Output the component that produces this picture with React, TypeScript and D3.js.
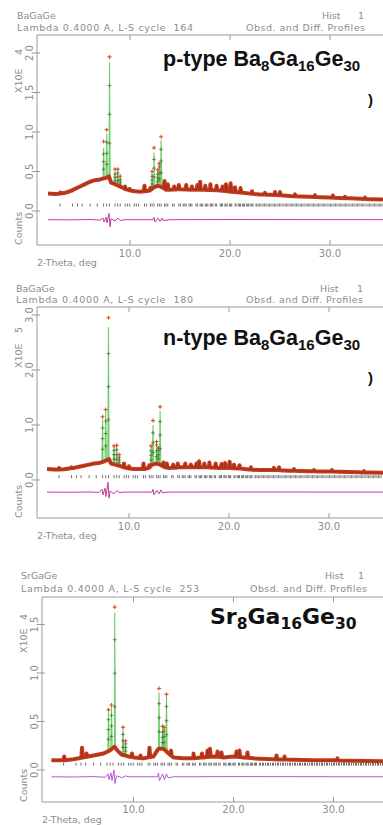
import React from 'react';
import * as d3 from 'd3';

// reflection marker positions, 2-theta (deg)
const reflections = [
  3.01, 4.25, 4.75, 5.21, 6.01, 6.72, 7.36, 7.67, 7.95, 8.5, 8.77, 9.02, 9.51, 9.74, 9.97,
  10.42, 10.63, 10.84, 11.45, 11.64, 12.03, 12.21, 12.4, 12.76, 12.93, 13.11, 13.45, 13.61,
  13.78, 14.26, 14.42, 14.88, 15.03, 15.33, 15.48, 15.62, 15.91, 16.05, 16.19, 16.6, 16.74,
  17.01, 17.14, 17.27, 17.53, 17.66, 17.79, 18.04, 18.16, 18.29, 18.53, 18.66, 19.02, 19.14,
  19.25, 19.49, 19.6, 19.72, 19.94, 20.06, 20.17, 20.5, 20.61, 20.83, 20.94, 21.05, 21.26,
  21.37, 21.47, 21.68, 21.79, 21.89, 22.09, 22.2, 22.3, 22.6, 22.7, 22.9, 23.0, 23.2, 23.4,
  23.5, 23.7, 23.9, 24.0, 24.2, 24.4, 24.5, 24.7, 24.9, 25.0, 25.2, 25.4, 25.6, 25.7, 25.9,
  26.1, 26.2, 26.4, 26.6, 26.7, 26.9, 27.1, 27.2, 27.4, 27.6, 27.8, 27.9, 28.1, 28.3, 28.4,
  28.6, 28.8, 28.9, 29.1, 29.3, 29.4, 29.6, 29.8, 30.0, 30.1, 30.3, 30.5, 30.6, 30.8, 31.0,
  31.1, 31.3, 31.5, 31.6, 31.8, 32.0, 32.2, 32.3, 32.5, 32.7, 32.8, 33.0, 33.2, 33.3, 33.5,
  33.7, 33.9, 34.0, 34.2, 34.4, 34.5, 34.7, 34.9, 35.0, 35.2
];

// p-type Ba8Ga16Ge30 (x10^4 counts)
const pBackground: [number, number][] = [
  [1.8, 0.22], [2.5, 0.215], [3, 0.22], [3.5, 0.23], [4, 0.25], [4.5, 0.28], [5, 0.31],
  [5.5, 0.34], [6, 0.37], [6.5, 0.39], [7, 0.4], [7.3, 0.41], [7.6, 0.42], [7.9, 0.44],
  [8.1, 0.36], [8.5, 0.34], [9, 0.31], [9.5, 0.28], [10, 0.26], [10.5, 0.25], [11, 0.245],
  [11.5, 0.25], [12, 0.26], [12.4, 0.3], [12.8, 0.32], [13.2, 0.3], [13.6, 0.27], [14, 0.27],
  [15, 0.275], [16, 0.27], [17, 0.27], [18, 0.265], [19, 0.26], [20, 0.245], [21, 0.235],
  [22, 0.22], [23, 0.21], [24, 0.205], [25, 0.2], [26, 0.19], [27, 0.185], [28, 0.18],
  [29, 0.175], [30, 0.17], [31, 0.165], [32, 0.16], [33, 0.155], [34, 0.15], [35.5, 0.145]
];
const pMajor: [number, number, number][] = [
  [7.36, 0.8, 0.88], [7.67, 0.98, 1.03], [7.95, 1.88, 1.95], [8.5, 0.5, 0.53], [8.77, 0.52, 0.53],
  [9.02, 0.42, 0.44], [12.21, 0.48, 0.5], [12.4, 0.74, 0.8], [12.76, 0.5, 0.52], [12.93, 0.62, 0.6],
  [13.11, 0.9, 0.94]
];
const pMinor: [number, number][] = [
  [3.01, 0.235], [4.25, 0.26], [9.5, 0.31], [9.97, 0.28], [11.45, 0.32], [12.03, 0.29],
  [13.45, 0.38], [13.78, 0.34], [14.42, 0.31], [14.88, 0.33], [15.62, 0.33], [16.19, 0.31],
  [16.74, 0.33], [17.01, 0.37], [17.53, 0.32], [18.04, 0.34], [18.66, 0.32], [19.25, 0.31],
  [19.6, 0.34], [20.06, 0.35], [20.5, 0.3], [21.05, 0.29], [22.2, 0.25], [23.5, 0.23],
  [24.5, 0.24], [25.0, 0.24], [26.5, 0.21], [28.5, 0.2], [30.3, 0.195], [31.5, 0.18], [33.5, 0.17]
];
const pDiff: [number, number][] = [
  [1.8, -0.11], [4, -0.112], [6, -0.108], [7.0, -0.115], [7.3, -0.09], [7.4, -0.14], [7.6, -0.08],
  [7.7, -0.15], [7.9, -0.03], [8.0, -0.2], [8.1, -0.1], [8.5, -0.125], [8.8, -0.09], [9.0, -0.12],
  [9.5, -0.11], [12.3, -0.11], [12.4, -0.08], [12.5, -0.14], [12.8, -0.09], [13.0, -0.13],
  [13.2, -0.09], [13.3, -0.12], [14, -0.11], [20, -0.108], [35.5, -0.11]
];

// n-type Ba8Ga16Ge30 (x10^5 counts)
const nBackground: [number, number][] = [
  [1.8, 0.2], [2.5, 0.19], [3, 0.19], [3.5, 0.195], [4, 0.21], [4.5, 0.22], [5, 0.24],
  [5.5, 0.26], [6, 0.28], [6.5, 0.3], [7, 0.31], [7.4, 0.33], [7.8, 0.36], [8.0, 0.38],
  [8.2, 0.3], [8.6, 0.28], [9, 0.26], [9.5, 0.23], [10, 0.21], [10.5, 0.2], [11, 0.2],
  [11.5, 0.2], [12, 0.22], [12.3, 0.28], [12.8, 0.3], [13.2, 0.27], [13.6, 0.23], [14, 0.22],
  [15, 0.23], [16, 0.23], [17, 0.23], [18, 0.23], [19, 0.22], [20, 0.22], [21, 0.21],
  [22, 0.19], [23, 0.18], [24, 0.18], [25, 0.18], [26, 0.17], [27, 0.165], [28, 0.16],
  [29, 0.155], [30, 0.155], [31, 0.15], [32, 0.145], [33, 0.14], [34, 0.135], [35.5, 0.13]
];
const nMajor: [number, number, number][] = [
  [7.36, 1.1, 1.15], [7.67, 1.25, 1.28], [7.95, 2.78, 2.95], [8.5, 0.6, 0.62], [8.77, 0.62, 0.63],
  [9.02, 0.45, 0.46], [12.21, 0.6, 0.62], [12.4, 1.0, 1.08], [12.76, 0.72, 0.7], [12.93, 0.6, 0.58],
  [13.11, 1.26, 1.33]
];
const nMinor: [number, number][] = [
  [3.01, 0.22], [4.25, 0.23], [9.5, 0.3], [10.0, 0.25], [11.45, 0.3], [12.03, 0.27],
  [13.45, 0.32], [13.78, 0.3], [14.42, 0.28], [14.88, 0.3], [15.62, 0.3], [16.19, 0.28],
  [16.74, 0.3], [17.01, 0.34], [17.53, 0.3], [18.04, 0.32], [18.66, 0.3], [19.25, 0.29],
  [19.6, 0.31], [20.06, 0.33], [20.5, 0.28], [21.05, 0.27], [22.2, 0.23], [24.5, 0.22],
  [25.0, 0.23], [26.5, 0.2], [28.5, 0.18], [30.3, 0.18], [33.5, 0.16]
];
const nDiff: [number, number][] = [
  [1.8, -0.22], [4, -0.222], [6, -0.218], [7.0, -0.225], [7.3, -0.17], [7.4, -0.27], [7.6, -0.15],
  [7.7, -0.3], [7.9, -0.04], [8.0, -0.33], [8.1, -0.2], [8.5, -0.25], [8.8, -0.19], [9.0, -0.23],
  [9.5, -0.22], [12.3, -0.22], [12.4, -0.17], [12.5, -0.27], [12.8, -0.19], [13.0, -0.25],
  [13.2, -0.18], [13.3, -0.23], [14, -0.22], [20, -0.218], [35.5, -0.22]
];

// Sr8Ga16Ge30 (x10^4 counts)
const sBackground: [number, number][] = [
  [1.8, 0.1], [3, 0.1], [4, 0.11], [5, 0.13], [6, 0.15], [7, 0.17], [7.6, 0.2], [8.1, 0.24],
  [8.4, 0.2], [8.8, 0.16], [9.5, 0.14], [10, 0.13], [11, 0.12], [12, 0.14], [12.5, 0.22],
  [13, 0.22], [13.5, 0.17], [14, 0.13], [15, 0.12], [16, 0.12], [17, 0.13], [18, 0.14],
  [19, 0.13], [20, 0.14], [21, 0.13], [22, 0.12], [24, 0.11], [26, 0.105], [28, 0.1],
  [30, 0.1], [32, 0.095], [35.5, 0.09]
];
const sMajor: [number, number, number][] = [
  [7.5, 0.6, 0.62], [7.8, 0.65, 0.67], [8.12, 1.62, 1.68], [8.95, 0.42, 0.44], [9.2, 0.3, 0.3],
  [12.55, 0.8, 0.84], [12.9, 0.43, 0.45], [13.05, 0.45, 0.44], [13.3, 0.77, 0.78]
];
const sMinor: [number, number][] = [
  [3.07, 0.14], [4.85, 0.23], [5.3, 0.17], [9.85, 0.17], [10.7, 0.15], [11.6, 0.23],
  [13.75, 0.2], [16.0, 0.17], [16.85, 0.17], [17.4, 0.2], [17.65, 0.22], [18.4, 0.19],
  [18.8, 0.18], [20.3, 0.19], [20.6, 0.2], [21.4, 0.18], [24.3, 0.15], [25.1, 0.14], [30.4, 0.12]
];
const sDiff: [number, number][] = [
  [1.8, -0.07], [4, -0.072], [6, -0.068], [7.2, -0.075], [7.45, -0.04], [7.55, -0.1], [7.75, -0.03],
  [7.85, -0.11], [8.05, 0.0], [8.15, -0.14], [8.3, -0.06], [8.9, -0.08], [9.2, -0.06], [9.5, -0.07],
  [12.4, -0.07], [12.5, -0.03], [12.6, -0.11], [12.9, -0.04], [13.1, -0.1], [13.3, -0.04],
  [13.45, -0.08], [14, -0.07], [20, -0.068], [35.5, -0.07]
];

const xTicks = [10, 20, 30];

const panels = [
  {
    name: 'BaGaGe', cycle: '164', exp: '4', title: ['p-type Ba', '8', 'Ga', '16', 'Ge', '30'],
    bg: pBackground, major: pMajor, minor: pMinor, diff: pDiff, yTicks: [0, 0.5, 1, 1.5, 2],
    top: 35, bottom: 245, left: 37, x0: 30, zero: 211, unit: 79, tickAt: 0.075,
    head1: 19, head2: 31, hx: 17, lambdaW: 176, histX: 322, oneX: 358, profStart: 246, profW: 119,
    titleX: 163, titleY: 66, paren: 100, diffColor: '#c2389a',
    expY: 52, x10Y: 93, countsY: 245, tickLabelY: 257, thetaY: 266
  },
  {
    name: 'BaGaGe', cycle: '180', exp: '5', title: ['n-type Ba', '8', 'Ga', '16', 'Ge', '30'],
    bg: nBackground, major: nMajor, minor: nMinor, diff: nDiff, yTicks: [0, 1, 2, 3],
    top: 307, bottom: 518, left: 37, x0: 29, zero: 480, unit: 55, tickAt: 0.06,
    head1: 292, head2: 303, hx: 16, lambdaW: 177, histX: 320, oneX: 357, profStart: 246, profW: 117,
    titleX: 163, titleY: 345, paren: 378, diffColor: '#c2389a',
    expY: 330, x10Y: 368, countsY: 518, tickLabelY: 530, thetaY: 539
  },
  {
    name: 'SrGaGe', cycle: '253', exp: '4', title: ['Sr', '8', 'Ga', '16', 'Ge', '30'],
    bg: sBackground, major: sMajor, minor: sMinor, diff: sDiff, yTicks: [0, 0.5, 1, 1.5],
    top: 597, bottom: 802, left: 42, x0: 33.5, zero: 770, unit: 97, tickAt: 0.06,
    head1: 579, head2: 592, hx: 21, lambdaW: 178, histX: 325, oneX: 358, profStart: 250, profW: 117,
    titleX: 210, titleY: 624, paren: 0, diffColor: '#b45ad0',
    expY: 617, x10Y: 653, countsY: 802, tickLabelY: 813, thetaY: 823
  }
];

const grey = '#8c8c8c';
const headFont = "'DejaVu Sans', sans-serif";

function profile(bg: [number, number][], peaks: [number, number][]) {
  const bgAt = d3.scaleLinear().domain(bg.map(d => d[0])).range(bg.map(d => d[1]));
  const w = 0.07;
  const pts: [number, number][] = bg.slice();
  peaks.forEach(([p, h]) => {
    pts.push([p - w, bgAt(p - w)], [p, h], [p + w, bgAt(p + w)]);
  });
  return pts.sort((a, b) => a[0] - b[0]);
}

function Panel({ cfg }: { cfg: typeof panels[number] }) {
  const x = d3.scaleLinear().domain([0, 10]).range([cfg.x0, cfg.x0 + 100]);
  const y = d3.scaleLinear().domain([0, 1]).range([cfg.zero, cfg.zero - cfg.unit]);
  const line = d3.line<[number, number]>().x(d => x(d[0])).y(d => y(d[1]));
  const bgAt = d3.scaleLinear().domain(cfg.bg.map(d => d[0])).range(cfg.bg.map(d => d[1]));

  const calc = profile(cfg.bg, [...cfg.minor, ...cfg.major.map(d => [d[0], d[1]] as [number, number])]);
  const obs = profile(cfg.bg, cfg.minor);
  const right = 383;
  const cross = 'M-2,0H2M0,-2V2';
  const isSr = cfg.name === 'SrGaGe';

  return (
    <g>
      <text x={cfg.hx} y={cfg.head1} fontFamily={headFont} fontSize={9.5} fill={grey}>{cfg.name}</text>
      <text x={cfg.hx} y={cfg.head2} fontFamily={headFont} fontSize={9.5} fill={grey}
        textLength={cfg.lambdaW} lengthAdjust="spacing" style={{ whiteSpace: 'pre' }}>
        {`Lambda 0.4000 A, L-S cycle  ${cfg.cycle}`}
      </text>
      <text x={cfg.histX} y={cfg.head1} fontFamily={headFont} fontSize={9.5} fill={grey}>Hist</text>
      <text x={cfg.oneX} y={cfg.head1} fontFamily={headFont} fontSize={9.5} fill={grey}>1</text>
      <text x={cfg.profStart} y={cfg.head2} fontFamily={headFont} fontSize={9.5} fill={grey}
        textLength={cfg.profW} lengthAdjust="spacing">
        Obsd. and Diff. Profiles
      </text>

      {/* frame */}
      <path d={`M${right},${cfg.top}H${cfg.left}V${cfg.bottom}H${right}`} fill="none" stroke="#9a9a9a" strokeWidth={1} />
      {xTicks.map(t => (
        <g key={t}>
          <line x1={x(t)} x2={x(t)} y1={cfg.top} y2={cfg.top + 5} stroke="#9a9a9a" />
          <line x1={x(t)} x2={x(t)} y1={cfg.bottom} y2={cfg.bottom - 5} stroke="#9a9a9a" />
          <text x={x(t)} y={cfg.tickLabelY} textAnchor="middle" fontFamily={headFont} fontSize={10} fill={grey}>
            {d3.format('.1f')(t)}
          </text>
        </g>
      ))}
      {cfg.yTicks.map(t => (
        <g key={t}>
          <line x1={cfg.left - 4} x2={cfg.left + 3} y1={y(t)} y2={y(t)} stroke="#9a9a9a" />
          <text transform={`translate(${cfg.left - 4},${y(t)}) rotate(-90)`} textAnchor="middle"
            fontFamily={headFont} fontSize={10} fill={grey}>{d3.format('.1f')(t)}</text>
        </g>
      ))}
      <text transform={`translate(${cfg.left - 15},${cfg.x10Y}) rotate(-90)`} fontFamily={headFont} fontSize={9.5} fill={grey}>X10E</text>
      <text transform={`translate(${cfg.left - 15},${cfg.expY}) rotate(-90)`} textAnchor="middle" fontFamily={headFont} fontSize={9.5} fill={grey}>{cfg.exp}</text>
      <text transform={`translate(${cfg.left - 15},${cfg.countsY}) rotate(-90)`} fontFamily={headFont} fontSize={9.5} fill={grey}>Counts</text>
      <text x={cfg.left} y={cfg.thetaY} fontFamily={headFont} fontSize={9.5} fill={grey}>2-Theta, deg</text>

      {/* reflection markers */}
      {reflections.map((r, i) => (
        <line key={i} x1={x(r)} x2={x(r)} y1={y(cfg.tickAt) - 1.5} y2={y(cfg.tickAt) + 1.5} stroke="#333" strokeWidth={0.7} />
      ))}

      {/* difference curve */}
      <path d={line(cfg.diff) || ''} fill="none" stroke={cfg.diffColor} strokeWidth={1} />

      {/* calculated profile */}
      <path d={line(calc) || ''} fill="none" stroke="#6ccf6c" strokeWidth={1.1} />
      {/* observed profile */}
      <path d={line(obs) || ''} fill="none" stroke="#c23c1f" strokeWidth={4} strokeLinejoin="round" />
      <path d={line(obs) || ''} fill="none" stroke="#8e2412" strokeWidth={1} opacity={0.5} />
      {cfg.major.map(([p, c, o], i) => {
        const b = bgAt(p);
        return (
          <g key={i}>
            {[0.3, 0.55, 0.8].map(f => (
              <path key={f} d={cross} transform={`translate(${x(p)},${y(b + (c - b) * f)})`} stroke="#556b2f" strokeWidth={0.7} />
            ))}
            <path d={cross} transform={`translate(${x(p)},${y(o)})`} stroke="#e8502a" strokeWidth={1.2} />
          </g>
        );
      })}

      {/* title */}
      <text x={cfg.titleX} y={cfg.titleY}
        fontFamily={isSr ? "'DejaVu Sans', sans-serif" : "'Liberation Sans', Arial, sans-serif"}
        fontWeight="bold" fontSize={isSr ? 22 : 21.5} fill="#111">
        {cfg.title.map((s, i) => (
          <tspan key={i} fontSize={i % 2 ? (isSr ? 15.5 : 15) : undefined} dy={i === 0 ? 0 : i % 2 ? 5 : -5}>{s}</tspan>
        ))}
      </text>
      {cfg.paren > 0 && (
        <text x={368} y={cfg.paren + 5} fontFamily="'Liberation Sans', Arial, sans-serif" fontWeight="bold" fontSize={15} fill="#111">)</text>
      )}
    </g>
  );
}

export default function App() {
  return (
    <svg width={383} height={825} style={{ position: 'absolute', left: 0, top: 0, background: '#fff' }}>
      <rect width={383} height={825} fill="#fff" />
      {panels.map((p, i) => <Panel key={i} cfg={p} />)}
    </svg>
  );
}
